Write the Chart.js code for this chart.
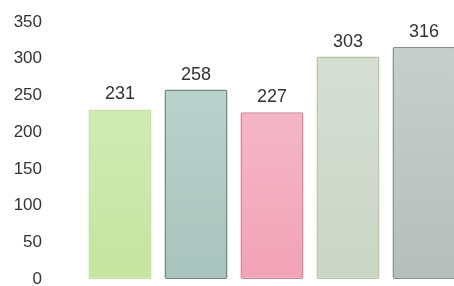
<!DOCTYPE html>
<html>
<head>
<meta charset="utf-8">
<script src="https://cdn.jsdelivr.net/npm/chart.js@4/dist/chart.umd.min.js"></script>
<style>
  html, body { margin: 0; padding: 0; background: #fff; overflow: hidden; }
  canvas { display: block; }
</style>
</head>
<body>
<canvas id="myChart" width="462" height="286"></canvas>
<script>
// chart data
const categories = ["A", "B", "C", "D", "E"];
const values = [231, 258, 227, 303, 316];
const yTicks = [0, 50, 100, 150, 200, 250, 300, 350];

// bar colours: [top, bottom, border]
const barTop = ["#d4efbf", "#bfd7d1", "#f5c2cf", "#d8e0d7", "#c8d1ce"];
const barBottom = ["#c5e5a0", "#a9c4bc", "#f2a2b7", "#cbd5c5", "#b5bebb"];
const barBorder = ["#c6e0a0", "#6b8782", "#d97f98", "#b3c79c", "#858f8c"];

// draw value labels above bars
const valueLabels = {
  id: "valueLabels",
  afterDatasetsDraw(chart) {
    const ctx = chart.ctx;
    const meta = chart.getDatasetMeta(0);
    ctx.save();
    ctx.font = "18px 'Liberation Sans', Arial, sans-serif";
    ctx.fillStyle = "#333";
    ctx.textAlign = "center";
    ctx.textBaseline = "alphabetic";
    meta.data.forEach((bar, i) => {
      ctx.fillText(values[i], bar.x, bar.y - 10);
    });
    ctx.restore();
  },
};

const ctx = document.getElementById("myChart");

new Chart(ctx, {
  type: "bar",
  data: {
    labels: categories,
    datasets: [
      {
        data: values,
        backgroundColor: (c) => {
          const area = c.chart.chartArea;
          if (!area) return barBottom[c.dataIndex];
          const g = c.chart.ctx.createLinearGradient(0, area.top, 0, area.bottom);
          g.addColorStop(0, barTop[c.dataIndex]);
          g.addColorStop(1, barBottom[c.dataIndex]);
          return g;
        },
        borderColor: barBorder,
        borderWidth: 1.5,
        borderRadius: 2,
        borderSkipped: false,
        categoryPercentage: 1,
        barPercentage: 0.83,
      },
    ],
  },
  options: {
    responsive: false,
    animation: false,
    layout: { padding: { top: 22, bottom: 7, left: 0, right: 0 } },
    plugins: {
      legend: { display: false },
      tooltip: { enabled: false },
    },
    scales: {
      x: { display: false },
      y: {
        min: 0,
        max: 350,
        afterFit: (s) => {
          s.width = 82;
          s.paddingTop = 0;
          s.paddingBottom = 0;
        },
        afterBuildTicks: (s) => { s.ticks = yTicks.map((v) => ({ value: v })); },
        grid: { display: false, drawTicks: false },
        border: { display: false },
        ticks: {
          padding: 40,
          color: "#333",
          font: { size: 17, family: "'Liberation Sans', Arial, sans-serif" },
        },
      },
    },
  },
  plugins: [valueLabels],
});
</script>
</body>
</html>
